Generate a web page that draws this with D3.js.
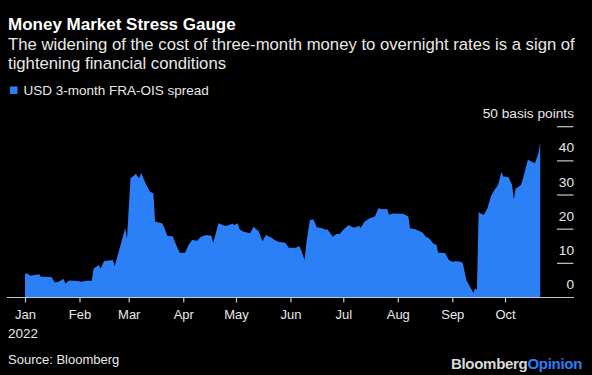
<!DOCTYPE html>
<html>
<head>
<meta charset="utf-8">
<script src="https://cdn.jsdelivr.net/npm/d3@7"></script>
<style>
    body { margin: 0; background: #000; }
    text { font-family: "Liberation Sans", Arial, Helvetica, sans-serif; }
</style>
</head>
<body>
<div id="chart"></div>
<script>
var dates = [
    "2022-01-01", "2022-01-02", "2022-01-04", "2022-01-09", "2022-01-10", "2022-01-11", "2022-01-16",
    "2022-01-18", "2022-01-20", "2022-01-23", "2022-01-24", "2022-01-26", "2022-01-31", "2022-02-02",
    "2022-02-05", "2022-02-08", "2022-02-09", "2022-02-12", "2022-02-13", "2022-02-15", "2022-02-20",
    "2022-02-21", "2022-02-23", "2022-02-27", "2022-02-28", "2022-03-02", "2022-03-04", "2022-03-05",
    "2022-03-07", "2022-03-08", "2022-03-11", "2022-03-13", "2022-03-15", "2022-03-16", "2022-03-20",
    "2022-03-21", "2022-03-23", "2022-03-26", "2022-03-28", "2022-03-30", "2022-04-02", "2022-04-04",
    "2022-04-06", "2022-04-09", "2022-04-11", "2022-04-14", "2022-04-17", "2022-04-18", "2022-04-21",
    "2022-04-25", "2022-04-27", "2022-04-29", "2022-04-30", "2022-05-02", "2022-05-03", "2022-05-05",
    "2022-05-09", "2022-05-11", "2022-05-14", "2022-05-16", "2022-05-18", "2022-05-21", "2022-05-23",
    "2022-05-25", "2022-05-29", "2022-05-31", "2022-06-04", "2022-06-06", "2022-06-07", "2022-06-09",
    "2022-06-10", "2022-06-12", "2022-06-14", "2022-06-16", "2022-06-19", "2022-06-21", "2022-06-22",
    "2022-06-25", "2022-06-27", "2022-06-29", "2022-07-01", "2022-07-04", "2022-07-07", "2022-07-10",
    "2022-07-11", "2022-07-13", "2022-07-16", "2022-07-19", "2022-07-21", "2022-07-23", "2022-07-26",
    "2022-07-27", "2022-07-29", "2022-08-04", "2022-08-07", "2022-08-08", "2022-08-11", "2022-08-15",
    "2022-08-17", "2022-08-19", "2022-08-21", "2022-08-23", "2022-08-24", "2022-08-28", "2022-08-30",
    "2022-09-01", "2022-09-03", "2022-09-06", "2022-09-07", "2022-09-09", "2022-09-11", "2022-09-13",
    "2022-09-14", "2022-09-15", "2022-09-16", "2022-09-17", "2022-09-19", "2022-09-21", "2022-09-23",
    "2022-09-25", "2022-09-27", "2022-09-29", "2022-09-30", "2022-10-03", "2022-10-05", "2022-10-06",
    "2022-10-07", "2022-10-10", "2022-10-11", "2022-10-14", "2022-10-16", "2022-10-18", "2022-10-20",
    "2022-10-21"
];

// USD 3-month FRA-OIS spread, basis points
var spread = [
    6.8, 7.1, 6.4, 6.8, 6.1, 6.1, 6.0,
    4.4, 4.6, 5.4, 4.0, 5.0, 4.8, 4.6,
    4.9, 4.9, 8.5, 9.5, 8.5, 10.7, 11.0,
    9.2, 12.9, 20.3, 17.3, 34.9, 35.7, 36.2,
    34.9, 36.5, 32.9, 31.0, 30.5, 22.2, 21.7,
    20.7, 18.0, 17.9, 15.4, 13.1, 13.1, 15.4,
    16.8, 16.6, 17.8, 18.3, 18.1, 15.9, 21.7,
    20.9, 21.2, 21.6, 21.2, 21.7, 20.0, 19.3,
    18.8, 20.7, 19.3, 16.5, 18.3, 17.6, 16.8,
    16.3, 16.0, 14.6, 14.6, 15.1, 13.9, 11.0,
    15.9, 22.7, 22.9, 20.6, 20.3, 19.8, 20.0,
    17.8, 18.6, 18.6, 19.8, 21.2, 20.4, 20.9,
    20.4, 22.2, 23.2, 23.7, 26.1, 25.8, 25.9,
    24.2, 24.6, 24.5, 23.7, 20.3, 20.0, 19.0,
    17.8, 17.3, 15.9, 15.4, 13.1, 13.0, 11.0,
    10.5, 10.6, 10.5, 10.0, 5.1, 3.2, 1.4,
    2.7, 2.2, 25.1, 24.6, 24.2, 26.1, 29.7,
    31.5, 32.9, 36.8, 35.4, 35.2, 32.9, 28.7,
    31.8, 32.9, 34.4, 40.3, 39.8, 39.3, 42.2,
    45.4
];

var yTicks = [0, 10, 20, 30, 40, 50];
var yLabels = ["0", "10", "20", "30", "40", "50 basis points"];
var monthTicks = ["2022-01-01", "2022-02-01", "2022-03-01", "2022-04-01", "2022-05-01",
    "2022-06-01", "2022-07-01", "2022-08-01", "2022-09-01", "2022-10-01"];
var monthLabels = ["Jan", "Feb", "Mar", "Apr", "May", "Jun", "Jul", "Aug", "Sep", "Oct"];

function init() {
    var w = 592;
    var h = 375;
    var blue = "#2b7ff7";
    var parse = d3.timeParse("%Y-%m-%d");

    var dataset = dates.map(function (d, i) {
        return { date: parse(d), value: spread[i] };
    });

    var svg = d3.select("#chart")
        .append("svg")
        .attr("width", w)
        .attr("height", h)
        .style("background", "#000");

    var xScale = d3.scaleTime()
        .domain([parse("2022-01-01"), parse("2022-10-21")])
        .range([25, 540.2]);
    var yScale = d3.scaleLinear()
        .domain([0, 50])
        .range([297.5, 126.7]);

    // header
    svg.append("text")
        .attr("x", 8).attr("y", 30)
        .attr("font-size", 17).attr("font-weight", "bold")
        .attr("fill", "#fff")
        .text("Money Market Stress Gauge");
    svg.append("text")
        .attr("x", 8).attr("y", 50)
        .attr("font-size", 16.7)
        .attr("fill", "#e8e8e8")
        .text("The widening of the cost of three-month money to overnight rates is a sign of");
    svg.append("text")
        .attr("x", 8).attr("y", 68.5)
        .attr("font-size", 16.7)
        .attr("fill", "#e8e8e8")
        .text("tightening financial conditions");

    svg.append("rect")
        .attr("x", 10).attr("y", 86.5)
        .attr("width", 7.5).attr("height", 7.5)
        .attr("fill", blue);
    svg.append("text")
        .attr("x", 23.5).attr("y", 95)
        .attr("font-size", 13.5)
        .attr("fill", "#e8e8e8")
        .text("USD 3-month FRA-OIS spread");

    var area = d3.area()
        .x(function (d) { return xScale(d.date); })
        .y0(yScale(0))
        .y1(function (d) { return yScale(d.value); });

    svg.append("path")
        .datum(dataset)
        .attr("d", area)
        .attr("fill", blue);

    // y gridline stubs on the right
    svg.selectAll(".ytick")
        .data(yTicks.slice(1))
        .enter()
        .append("line")
        .attr("class", "ytick")
        .attr("x1", 557).attr("x2", 573.5)
        .attr("y1", function (d) { return yScale(d); })
        .attr("y2", function (d) { return yScale(d); })
        .attr("stroke", "#c8c8c8")
        .attr("stroke-width", 1.2);

    svg.selectAll(".ylabel")
        .data(yTicks)
        .enter()
        .append("text")
        .attr("class", "ylabel")
        .attr("x", 574)
        .attr("y", function (d) { return yScale(d) - 8.5; })
        .attr("text-anchor", "end")
        .attr("font-size", 13.7)
        .attr("fill", "#e8e8e8")
        .text(function (d, i) { return yLabels[i]; });

    // x axis
    var xAxis = d3.axisBottom(xScale)
        .tickValues(monthTicks.map(parse))
        .tickSize(5)
        .tickPadding(7)
        .tickFormat(function (d, i) { return monthLabels[i]; });

    var gx = svg.append("g")
        .attr("transform", "translate(0," + yScale(0) + ")")
        .call(xAxis);
    gx.select(".domain").remove();
    gx.selectAll(".tick line").attr("stroke", "#c8c8c8").attr("stroke-width", 1.2);
    gx.selectAll(".tick text")
        .attr("fill", "#e8e8e8")
        .attr("font-size", 13)
        .attr("font-family", "Liberation Sans, Arial, sans-serif");

    svg.append("line")
        .attr("x1", 7).attr("x2", 574)
        .attr("y1", yScale(0)).attr("y2", yScale(0))
        .attr("stroke", "#c8c8c8")
        .attr("stroke-width", 1.2);

    svg.append("text")
        .attr("x", 8).attr("y", 337.5)
        .attr("font-size", 13.5)
        .attr("fill", "#e8e8e8")
        .text("2022");

    // footer
    svg.append("text")
        .attr("x", 8).attr("y", 363.5)
        .attr("font-size", 13)
        .attr("fill", "#e8e8e8")
        .text("Source: Bloomberg");

    var brand = svg.append("text")
        .attr("x", 582).attr("y", 368.5)
        .attr("text-anchor", "end")
        .attr("font-size", 15)
        .attr("font-weight", "bold")
        .attr("letter-spacing", -0.3);
    brand.append("tspan").attr("fill", "#d9d9d9").text("Bloomberg");
    brand.append("tspan").attr("fill", blue).text("Opinion");
}

window.onload = init;
</script>
</body>
</html>
